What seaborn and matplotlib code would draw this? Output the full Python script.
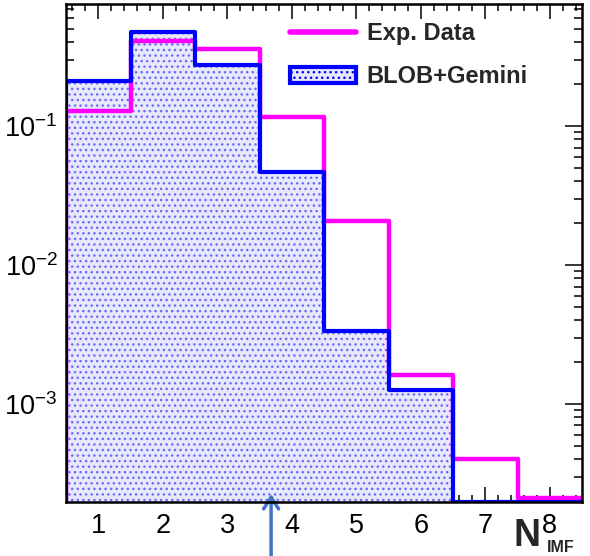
import numpy as np
import pandas as pd
import matplotlib
matplotlib.use("Agg")
import matplotlib.pyplot as plt
import seaborn as sns
from matplotlib.lines import Line2D
from matplotlib.patches import Patch
from matplotlib.ticker import MultipleLocator, LogLocator, NullFormatter

# ---- data ----
n_imf = [1, 2, 3, 4, 5, 6, 7, 8]
bin_edges = [0.5, 1.5, 2.5, 3.5, 4.5, 5.5, 6.5, 7.5, 8.5]
exp_data = [0.128, 0.411, 0.356, 0.116, 0.0208, 0.00162, 0.000402, 0.000211]
blob_gemini = [0.211, 0.476, 0.275, 0.0467, 0.00335, 0.00126, 0.0, 0.0]
x_ticks = [1, 2, 3, 4, 5, 6, 7, 8]
legend_labels = ["Exp. Data", "BLOB+Gemini"]

sns.set_theme(style="ticks")
plt.rcParams["font.family"] = ["Liberation Sans", "DejaVu Sans"]
plt.rcParams["mathtext.fontset"] = "custom"
plt.rcParams["mathtext.rm"] = "Liberation Sans"
plt.rcParams["mathtext.bf"] = "Liberation Sans:bold"
plt.rcParams["hatch.linewidth"] = 1.0

YMIN, YMAX = 1.97e-4, 0.755
PINK = "#ff00ff"
BLUE = "#0000ff"
FILL = "#e8e8fb"
DOTS = "#6a6aff"

fig = plt.figure(figsize=(5.9, 5.56), dpi=100)
ax = fig.add_axes([66 / 590, (556 - 502) / 556, (582 - 66) / 590, (502 - 4) / 556])

df = pd.DataFrame({"n": n_imf, "exp": exp_data, "blob": blob_gemini})

# hatched fill of the simulation histogram
sns.histplot(data=df, x="n", weights="blob", bins=bin_edges, element="step",
             fill=True, ax=ax, facecolor=FILL, edgecolor=DOTS,
             hatch="...", linewidth=0, alpha=1)

ax.set_yscale("log")


def outline(vals):
    v = np.clip(np.asarray(vals, dtype=float), YMIN, None)
    xs = [bin_edges[0]] + list(bin_edges)
    ys = [YMIN] + list(v) + [v[-1]]
    return pd.DataFrame({"x": xs, "y": ys})


o_exp = outline(exp_data)
o_blob = outline(blob_gemini)
sns.lineplot(data=o_exp, x="x", y="y", drawstyle="steps-post", estimator=None,
             sort=False, color=PINK, linewidth=3.2, ax=ax, zorder=3)
sns.lineplot(data=o_blob, x="x", y="y", drawstyle="steps-post", estimator=None,
             sort=False, color=BLUE, linewidth=3.0, ax=ax, zorder=4)

ax.set_xlim(0.5, 8.5)
ax.set_ylim(YMIN, YMAX)
ax.set_xlabel("")
ax.set_ylabel("")
ax.set_xticks(x_ticks)
ax.set_xticklabels([str(t) for t in x_ticks])
ax.xaxis.set_minor_locator(MultipleLocator(0.2))
ax.yaxis.set_major_locator(LogLocator(base=10, numticks=10))
ax.yaxis.set_minor_locator(LogLocator(base=10, subs=np.arange(2, 10), numticks=20))
ax.yaxis.set_minor_formatter(NullFormatter())

ax.tick_params(axis="both", which="both", direction="in", top=True, right=True,
               colors="black", labelsize=19.5, width=1.1)
ax.tick_params(axis="x", which="major", length=11, pad=8)
ax.tick_params(axis="x", which="minor", length=5)
ax.tick_params(axis="y", which="major", length=12, pad=6)
ax.tick_params(axis="y", which="minor", length=6)
for s in ax.spines.values():
    s.set_linewidth(1.8)
    s.set_color("black")
    s.set_zorder(5)

# legend
handles = [Line2D([], [], color=PINK, linewidth=4),
           Patch(facecolor=FILL, edgecolor=BLUE, hatch="...", linewidth=3)]
leg = ax.legend(handles, legend_labels, loc="upper left",
                bbox_to_anchor=(290 / 590, 1 - 22 / 556), bbox_transform=fig.transFigure,
                frameon=False, borderpad=0, borderaxespad=0,
                handlelength=2.8, handleheight=0.7, handletextpad=0.45,
                labelspacing=0.85, prop={"weight": "bold", "size": 17})

# axis title
fig.text(514 / 590, (556 - 546) / 556, "N", fontsize=27, fontweight="bold",
         ha="left", va="baseline")
fig.text(547 / 590, (556 - 552) / 556, "IMF", fontsize=11.5, fontweight="bold",
         ha="left", va="baseline")

# arrow annotation below the axis
ax.annotate("", xy=(3.68, 0.016), xycoords=("data", "axes fraction"),
            xytext=(3.68, -0.13), textcoords=("data", "axes fraction"),
            arrowprops=dict(arrowstyle="->,head_length=0.7,head_width=0.45",
                            color="#4472c4", lw=2.5, shrinkA=0, shrinkB=0),
            annotation_clip=False)

fig.savefig("out.png", dpi=100)
